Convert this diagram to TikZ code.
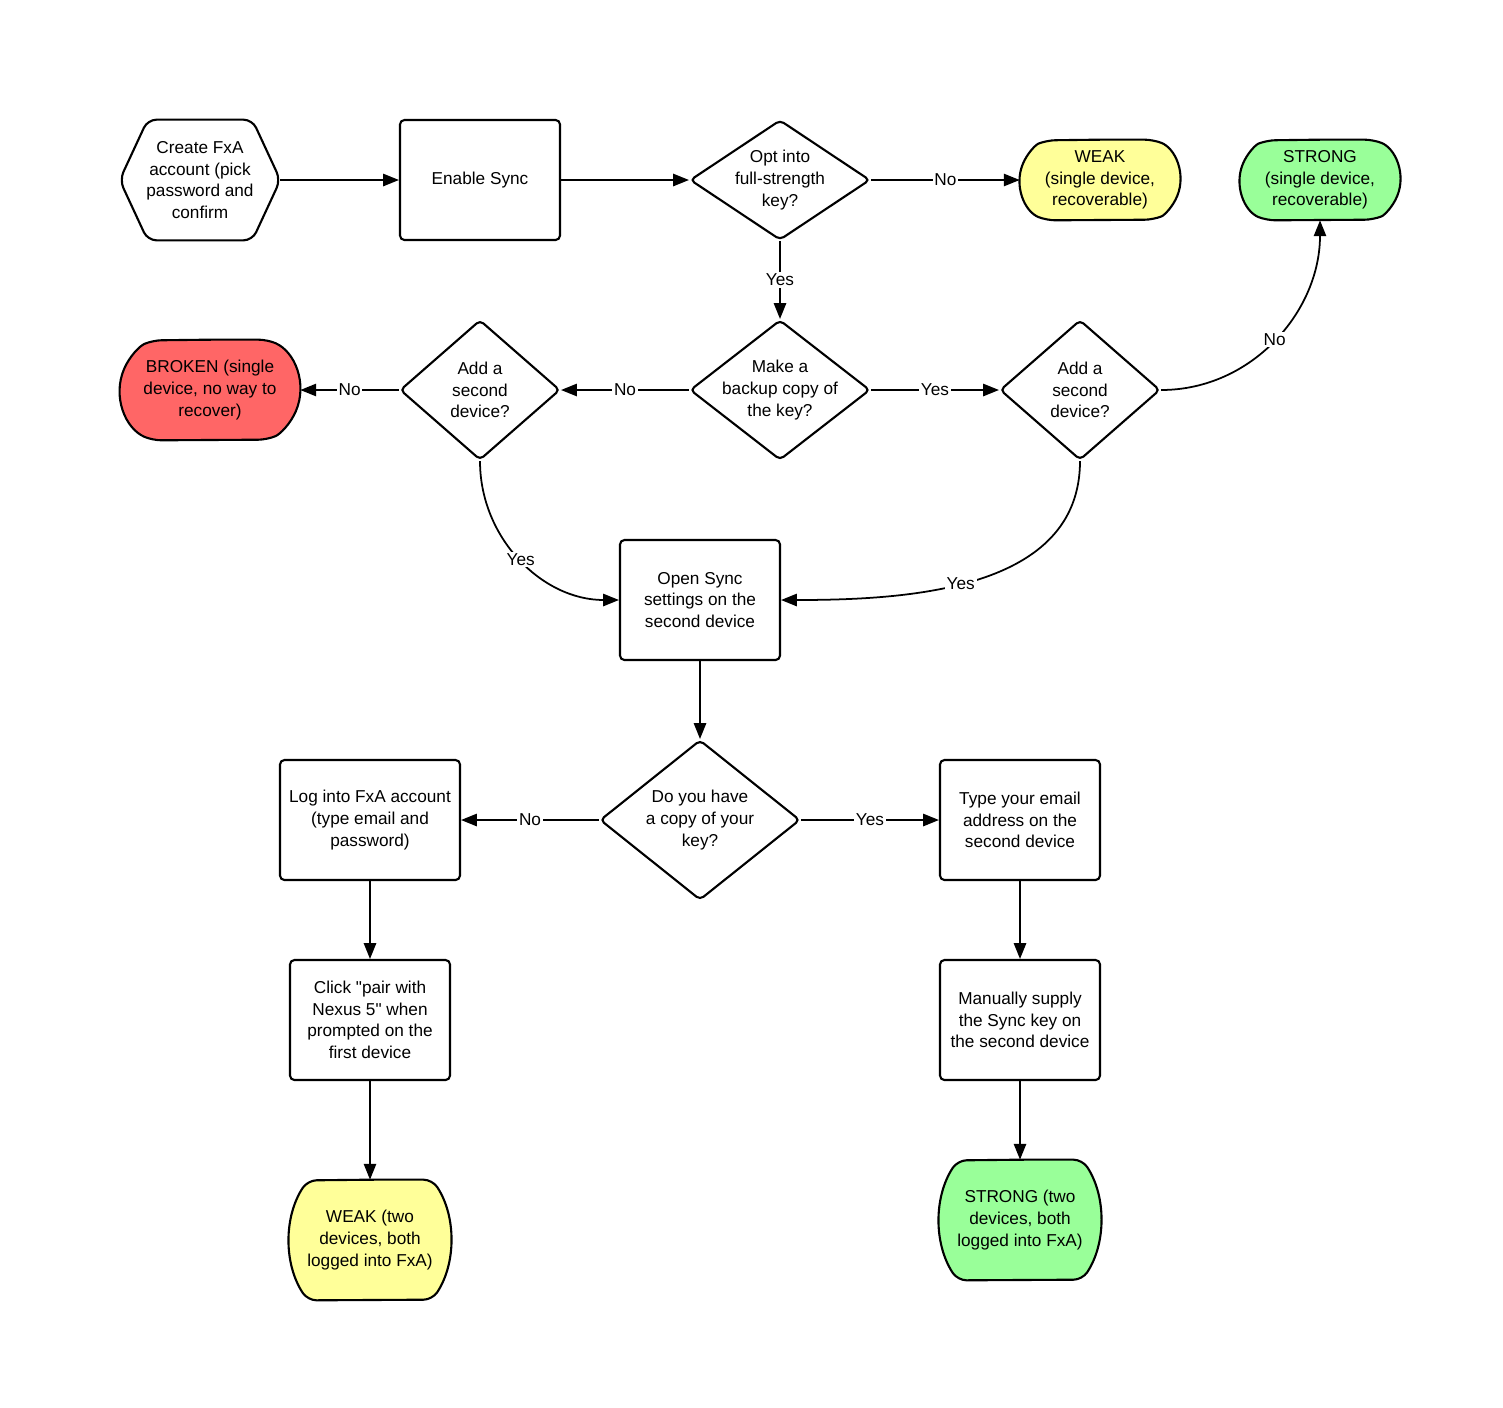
\documentclass[tikz,border=0pt]{standalone}
\usepackage{fontspec}
\setmainfont{Liberation Sans}
\usetikzlibrary{arrows.meta,shapes.geometric,backgrounds}

\definecolor{weakfill}{RGB}{255,255,153}
\definecolor{strongfill}{RGB}{153,255,153}
\definecolor{brokenfill}{RGB}{255,102,102}

\begin{document}
\begin{tikzpicture}[x=0.02cm, y=0.02cm,
    >={Triangle[length=9pt,width=7pt]},
    txt/.style={align=center, font=\fontsize{9.8}{12.3}\selectfont},
    box/.style={txt, draw, line width=1.2pt, rounded corners=2.5pt,
        minimum width=3.2cm, minimum height=2.4cm, inner sep=2pt},
    hexa/.style={txt, minimum width=3.2cm, minimum height=2.4cm},
    term/.style={txt, minimum width=3.2cm, minimum height=1.6cm},
    decision/.style={diamond, draw, line width=1.2pt, rounded corners=2.5pt, inner sep=0pt},
    outline/.style={draw, line width=1.2pt, rounded corners=5pt},
    conn/.style={->, line width=1pt},
    lbl/.style={txt, fill=white, inner sep=1pt}
  ]
    \useasboundingbox (0,0) rectangle (1503,-1407);

    % top row
    \node[hexa] (create) at (200,-180) {Create FxA\\account (pick\\password and\\confirm};
    \draw[outline] (create.west) -- ([xshift=0.56cm]create.north west)
        -- ([xshift=-0.56cm]create.north east) -- (create.east)
        -- ([xshift=-0.56cm]create.south east) -- ([xshift=0.56cm]create.south west) -- cycle;
    \node[box] (enable) at (480,-180) {Enable Sync};
    \node[decision, minimum width=3.6cm, minimum height=2.4cm,
        label={[txt]center:{Opt into\\full-strength\\key?}}] (opt) at (780,-180) {};
    \node[term] (weak1) at (1100,-180) {WEAK\\(single device,\\recoverable)};
    \node[term] (strong1) at (1320,-180) {STRONG\\(single device,\\recoverable)};

    % second row
    \node[term, minimum width=3.6cm, minimum height=2cm] (broken) at (210,-390) {BROKEN (single\\device, no way to\\recover)};
    \node[decision, minimum width=3.2cm, minimum height=2.8cm,
        label={[txt]center:{Add a\\second\\device?}}] (addl) at (480,-390) {};
    \node[decision, minimum width=3.6cm, minimum height=2.8cm,
        label={[txt]center:{Make a\\backup copy of\\the key?}}] (backup) at (780,-390) {};
    \node[decision, minimum width=3.2cm, minimum height=2.8cm,
        label={[txt]center:{Add a\\second\\device?}}] (addr) at (1080,-390) {};

    % second device
    \node[box] (open) at (700,-600) {Open Sync\\settings on the\\second device};
    \node[decision, minimum width=4cm, minimum height=3.2cm,
        label={[txt]center:{Do you have\\a copy of your\\key?}}] (have) at (700,-820) {};
    \node[box, minimum width=3.6cm] (login) at (370,-820) {Log into FxA account\\(type email and\\password)};
    \node[box] (type) at (1020,-820) {Type your email\\address on the\\second device};
    \node[box] (click) at (370,-1020) {Click \textquotedbl pair with\\Nexus 5\textquotedbl{} when\\prompted on the\\first device};
    \node[box] (manual) at (1020,-1020) {Manually supply\\the Sync key on\\the second device};
    \node[term, minimum height=2.4cm] (weak2) at (370,-1240) {WEAK (two\\devices, both\\logged into FxA)};
    \node[term, minimum height=2.4cm] (strong2) at (1020,-1220) {STRONG (two\\devices, both\\logged into FxA)};

    % end states
    \begin{scope}[on background layer]
        \draw[outline, fill=weakfill] (weak1.north) -- ([xshift=-0.54cm]weak1.north east)
            arc[start angle=68.2, end angle=-68.2, radius=0.862cm] -- ([xshift=0.54cm]weak1.south west)
            arc[start angle=248.2, end angle=111.8, radius=0.862cm] -- cycle;
        \draw[outline, fill=strongfill] (strong1.north) -- ([xshift=-0.54cm]strong1.north east)
            arc[start angle=68.2, end angle=-68.2, radius=0.862cm] -- ([xshift=0.54cm]strong1.south west)
            arc[start angle=248.2, end angle=111.8, radius=0.862cm] -- cycle;
        \draw[outline, fill=brokenfill] (broken.north) -- ([xshift=-0.66cm]broken.north east)
            arc[start angle=66.8, end angle=-66.8, radius=1.088cm] -- ([xshift=0.66cm]broken.south west)
            arc[start angle=246.8, end angle=113.2, radius=1.088cm] -- cycle;
        \draw[outline, fill=weakfill] (weak2.north) -- ([xshift=-0.36cm]weak2.north east)
            arc[start angle=33.4, end angle=-33.4, radius=2.18cm] -- ([xshift=0.36cm]weak2.south west)
            arc[start angle=213.4, end angle=146.6, radius=2.18cm] -- cycle;
        \draw[outline, fill=strongfill] (strong2.north) -- ([xshift=-0.36cm]strong2.north east)
            arc[start angle=33.4, end angle=-33.4, radius=2.18cm] -- ([xshift=0.36cm]strong2.south west)
            arc[start angle=213.4, end angle=146.6, radius=2.18cm] -- cycle;
    \end{scope}

    % connectors
    \draw[conn] (create) -- (enable);
    \draw[conn] (enable) -- (opt);
    \draw[conn] (opt) -- node[lbl] {No} (weak1);
    \draw[conn] (opt) -- node[lbl] {Yes} (backup);
    \draw[conn] (backup) -- node[lbl] {No} (addl);
    \draw[conn] (addl) -- node[lbl] {No} (broken);
    \draw[conn] (backup) -- node[lbl] {Yes} (addr);
    \draw[conn] (addr.east) to[out=0, in=-90] node[lbl] {No} (strong1.south);
    \draw[conn] (addl.south) to[out=-90, in=180] node[lbl] {Yes} (open.west);
    \draw[conn] (addr.south) to[out=-90, in=0] node[lbl, pos=0.55] {Yes} (open.east);
    \draw[conn] (open) -- (have);
    \draw[conn] (have) -- node[lbl] {No} (login);
    \draw[conn] (have) -- node[lbl] {Yes} (type);
    \draw[conn] (login) -- (click);
    \draw[conn] (click) -- (weak2);
    \draw[conn] (type) -- (manual);
    \draw[conn] (manual) -- (strong2);

\end{tikzpicture}
\end{document}
